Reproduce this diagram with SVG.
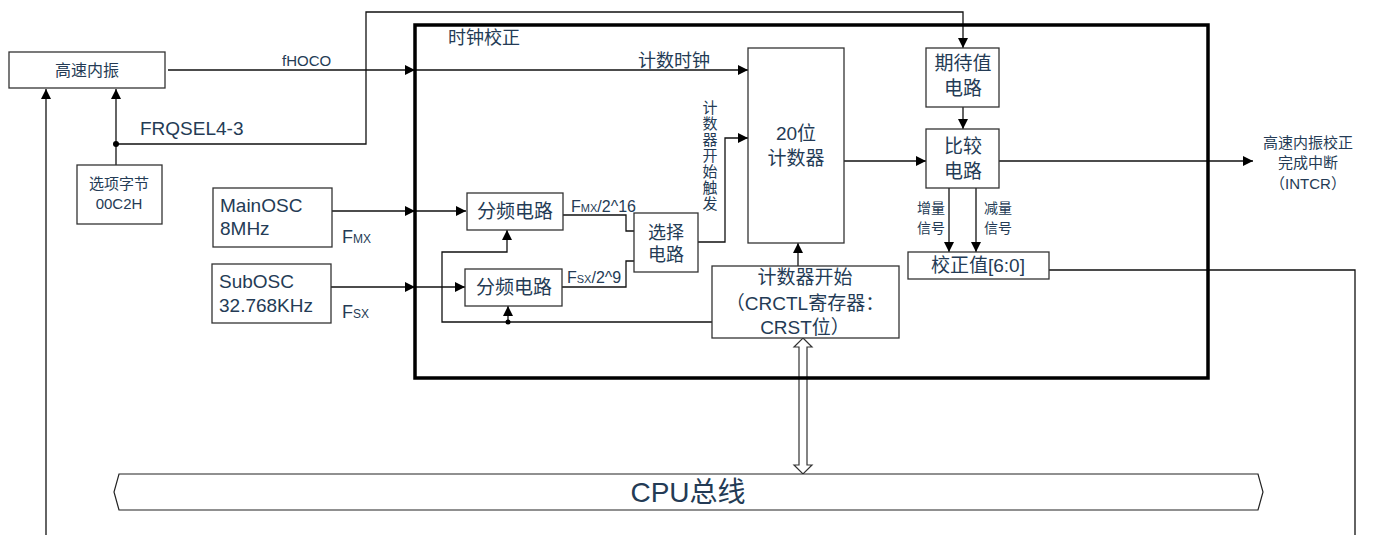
<svg xmlns="http://www.w3.org/2000/svg" width="1376" height="535" viewBox="0 0 1376 535">
<style>
.bx{fill:#fff;stroke:#333;stroke-width:1.3}
.ln{fill:none;stroke:#111;stroke-width:1.3}
text{font-family:"Liberation Sans","Noto Sans CJK SC",sans-serif;fill:#243b55}
.c{text-anchor:middle}
.f19{font-size:19px}
.f18{font-size:18px}
.f16{font-size:16px}
.f15{font-size:15px}
.f14{font-size:14px}
</style>
<defs>
<marker id="ar" markerWidth="10" markerHeight="10" refX="10" refY="5" orient="auto" markerUnits="userSpaceOnUse">
<path d="M0,0 L10,5 L0,10 Z" fill="#000"/>
</marker>
</defs>
<rect width="1376" height="535" fill="#fff"/>

<g id="connectors">
<path class="ln" d="M46,535 V89" marker-end="url(#ar)"/>
<path class="ln" d="M116,165 V89" marker-end="url(#ar)"/>
<path class="ln" d="M116,144 H366 V12 H963 V48" marker-end="url(#ar)"/>
<circle cx="116" cy="144" r="3" fill="#000"/>
<path class="ln" d="M168,70 H415" marker-end="url(#ar)"/>
<path class="ln" d="M415,70 H748" marker-end="url(#ar)"/>
<path class="ln" d="M332,211 H415" marker-end="url(#ar)"/>
<path class="ln" d="M415,211 H466" marker-end="url(#ar)"/>
<path class="ln" d="M331,287 H415" marker-end="url(#ar)"/>
<path class="ln" d="M415,287 H465" marker-end="url(#ar)"/>
<path class="ln" d="M563,215 H626 V231 H634"/>
<path class="ln" d="M562,287 H626 V261 H634"/>
<path class="ln" d="M698,242 H725 V138 H748" marker-end="url(#ar)"/>
<path class="ln" d="M844,161 H926" marker-end="url(#ar)"/>
<path class="ln" d="M963,107 V129" marker-end="url(#ar)"/>
<path class="ln" d="M999,161 H1253" marker-end="url(#ar)"/>
<path class="ln" d="M949,188 V252" marker-end="url(#ar)"/>
<path class="ln" d="M976,188 V252" marker-end="url(#ar)"/>
<path class="ln" d="M1049,270 H1355 V535"/>
<path class="ln" d="M798,266 V243" marker-end="url(#ar)"/>
<path class="ln" d="M712,322 H442 V252 H507 V230" marker-end="url(#ar)"/>
<path class="ln" d="M508,322 V306" marker-end="url(#ar)"/>
<circle cx="508" cy="322" r="2.5" fill="#000"/>
<polygon points="803,338 812,347 807,347 807,465 812,465 803,474 794,465 799,465 799,347 794,347" fill="#fff" stroke="#333" stroke-width="1.2"/>
</g>

<g id="clock-calibration">
<rect x="415" y="25" width="793" height="353" fill="none" stroke="#000" stroke-width="3.5"/>
<text x="448" y="44" class="f18">时钟校正</text>
</g>

<g id="hoco">
<rect class="bx" x="9" y="52" width="156" height="36"/>
<text x="87" y="76" class="c f16">高速内振</text>
</g>
<text x="282" y="66" class="f15">fHOCO</text>
<text x="140" y="135" class="f19">FRQSEL4-3</text>

<g id="option-byte">
<rect class="bx" x="77" y="165" width="85" height="59"/>
<text x="119" y="189" class="c f15">选项字节</text>
<text x="119" y="209" class="c f15">00C2H</text>
</g>

<g id="mainosc">
<rect class="bx" x="213" y="188" width="119" height="59"/>
<text x="220" y="212" class="f19">MainOSC</text>
<text x="220" y="235" class="f19">8MHz</text>
</g>
<text x="342" y="243" class="f18">F<tspan font-size="12">MX</tspan></text>

<g id="subosc">
<rect class="bx" x="212" y="264" width="119" height="59"/>
<text x="219" y="288" class="f19">SubOSC</text>
<text x="219" y="312" class="f19">32.768KHz</text>
</g>
<text x="342" y="318" class="f18">F<tspan font-size="12">SX</tspan></text>

<g id="divider1">
<rect class="bx" x="467" y="193" width="96" height="37"/>
<text x="515" y="218" class="c f19">分频电路</text>
</g>
<text x="571" y="212" class="f16">F<tspan font-size="11">MX</tspan>/2^16</text>

<g id="divider2">
<rect class="bx" x="465" y="269" width="97" height="37"/>
<text x="514" y="294" class="c f19">分频电路</text>
</g>
<text x="567" y="283" class="f16">F<tspan font-size="11">SX</tspan>/2^9</text>

<g id="select">
<rect class="bx" x="634" y="213" width="64" height="59"/>
<text x="666" y="239" class="c f18">选择</text>
<text x="666" y="261" class="c f18">电路</text>
</g>

<g id="trigger-label">
<text x="710" y="113" class="c f15">计</text>
<text x="710" y="129" class="c f15">数</text>
<text x="710" y="145" class="c f15">器</text>
<text x="710" y="161" class="c f15">开</text>
<text x="710" y="177" class="c f15">始</text>
<text x="710" y="193" class="c f15">触</text>
<text x="710" y="209" class="c f15">发</text>
</g>
<text x="638" y="67" class="f18">计数时钟</text>

<g id="counter20">
<rect class="bx" x="748" y="48" width="96" height="195"/>
<text x="796" y="140" class="c f19">20位</text>
<text x="796" y="165" class="c f19">计数器</text>
</g>

<g id="expected">
<rect class="bx" x="926" y="48" width="73" height="59"/>
<text x="963" y="70" class="c f19">期待值</text>
<text x="963" y="95" class="c f19">电路</text>
</g>

<g id="compare">
<rect class="bx" x="926" y="129" width="73" height="59"/>
<text x="963" y="153" class="c f19">比较</text>
<text x="963" y="178" class="c f19">电路</text>
</g>

<text x="931" y="213" class="c f14">增量</text>
<text x="931" y="233" class="c f14">信号</text>
<text x="998" y="213" class="c f14">减量</text>
<text x="998" y="233" class="c f14">信号</text>

<g id="trim">
<rect class="bx" x="908" y="252" width="141" height="27"/>
<text x="978" y="272" class="c f19">校正值[6:0]</text>
</g>

<g id="counter-start">
<rect class="bx" x="712" y="266" width="187" height="72"/>
<text x="805" y="284" class="c f19">计数器开始</text>
<text x="805" y="310" class="c f19">（CRCTL寄存器：</text>
<text x="805" y="334" class="c f19">CRST位）</text>
</g>

<g id="interrupt">
<text x="1308" y="148" class="c f15">高速内振校正</text>
<text x="1308" y="168" class="c f15">完成中断</text>
<text x="1308" y="189" class="c f15">（INTCR）</text>
</g>

<g id="cpu-bus">
<polygon points="119,474 1258,474 1263,492 1258,510 119,510 114,492" fill="#fff" stroke="#222" stroke-width="1.2"/>
<text x="688" y="502" class="c" font-size="28">CPU总线</text>
</g>
</svg>
